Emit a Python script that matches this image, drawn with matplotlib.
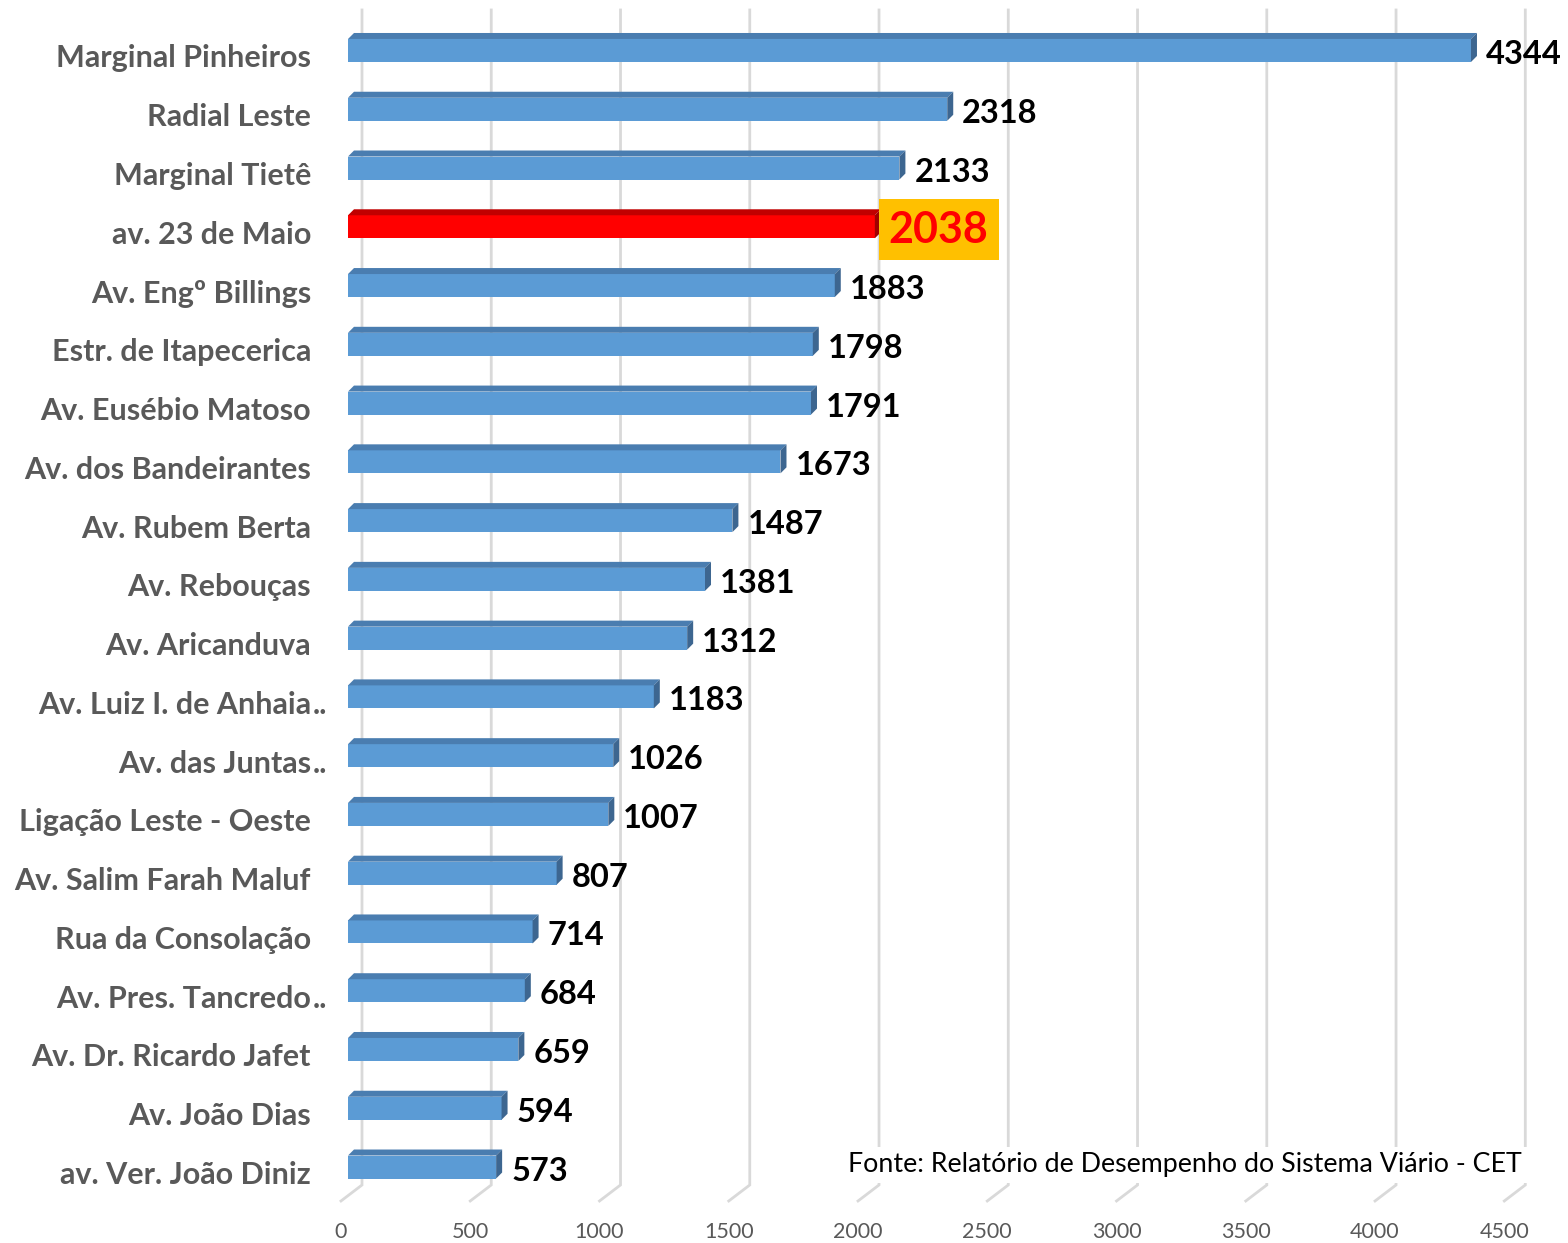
import matplotlib.pyplot as plt
from matplotlib.patches import Polygon, Rectangle

# data
vias = ["Marginal Pinheiros", "Radial Leste", "Marginal Tietê", "av. 23 de Maio",
        "Av. Engº Billings", "Estr. de Itapecerica", "Av. Eusébio Matoso",
        "Av. dos Bandeirantes", "Av. Rubem Berta", "Av. Rebouças", "Av. Aricanduva",
        "Av. Luiz I. de Anhaia..", "Av. das Juntas..", "Ligação Leste - Oeste",
        "Av. Salim Farah Maluf", "Rua da Consolação", "Av. Pres. Tancredo..",
        "Av. Dr. Ricardo Jafet", "Av. João Dias", "av. Ver. João Diniz"]
valores = [4344, 2318, 2133, 2038, 1883, 1798, 1791, 1673, 1487, 1381, 1312,
           1183, 1026, 1007, 807, 714, 684, 659, 594, 573]
destaque = "av. 23 de Maio"
ticks_x = [0, 500, 1000, 1500, 2000, 2500, 3000, 3500, 4000, 4500]
fonte = "Fonte: Relatório de Desempenho do Sistema Viário - CET"

W, H, DPI = 1568, 1243, 100
fig = plt.figure(figsize=(W / DPI, H / DPI), dpi=DPI)
ax = fig.add_axes([348 / W, (H - 1196.4) / H, (1511.3 - 348) / W, (1196.4 - 21.1) / H])
ax.set_xlim(0, 4500)
ax.set_ylim(len(vias) - 0.5, -0.5)
ax.axis("off")

# pixel -> data scales
p0 = ax.transData.transform((0, 0))
p1 = ax.transData.transform((1, 1))
ux = p1[0] - p0[0]          # px per unit x
uy = p0[1] - p1[1]          # px per unit y (downwards)

def px_x(n):
    return n / ux

def px_y(n):
    return n / uy

# gridlines (back plane + perspective floor)
grid_col = "#D9D9D9"
y_top = px_y(10 - 50.5)
y_back = px_y(1185 - 50.5)
y_front = px_y(1201 - 50.5)
for t in ticks_x:
    xb = t + px_x(14)
    xf = t - px_x(7)
    ax.plot([xb, xb, xf], [y_top, y_back, y_front], color=grid_col, lw=2,
            clip_on=False, zorder=1, solid_joinstyle="miter")
    ax.text(xf, px_y(1232 - 50.5), str(t), ha="center", va="center",
            fontsize=15.5, color="#595959", family="Lato")

# bars
h = 23 / uy
dx, dy = px_x(6), px_y(6)
lbl = dict(va="center", fontsize=22, fontweight="bold", color="#595959",
           family="Lato", clip_on=False)
for i, (nome, v) in enumerate(zip(vias, valores)):
    if nome == destaque:
        front, top, side = "#FF0000", "#C00000", "#A00000"
    else:
        front, top, side = "#5B9BD5", "#4A7DB0", "#3D6690"
    y0, y1 = i - h / 2, i + h / 2
    ax.add_patch(Rectangle((0, y0), v, h, facecolor=front, edgecolor="none", zorder=3))
    ax.add_patch(Polygon([(0, y0), (dx, y0 - dy), (v + dx, y0 - dy), (v, y0)],
                         closed=True, facecolor=top, edgecolor="none", zorder=3))
    ax.add_patch(Polygon([(v, y0), (v + dx, y0 - dy), (v + dx, y1 - dy), (v, y1)],
                         closed=True, facecolor=side, edgecolor="none", zorder=3))

    yl = i + px_y(8)
    if nome.endswith(".."):
        ax.text(-px_x(37), yl, nome[:-2], ha="right", **lbl)
        ax.text(-px_x(35), yl, "..", ha="left", **lbl)
    else:
        ax.text(-px_x(37), yl, nome, ha="right", **lbl)

    if nome == destaque:
        ax.text(v + px_x(14), i + px_y(3), str(v), ha="left", va="center", fontsize=31,
                fontweight="bold", color="#FF0000", family="Lato", zorder=5,
                bbox=dict(boxstyle="square,pad=0.24", facecolor="#FFC000", edgecolor="none"))
    else:
        ax.text(v + px_x(15), i + px_y(4), str(v), ha="left", va="center", fontsize=23.5,
                fontweight="bold", color="black", family="Lato", zorder=5, clip_on=False)

ax.text(4500 + px_x(10), px_y(1165 - 50.5), fonte, ha="right", va="center",
        fontsize=19.3, color="black", family="Lato", zorder=4,
        bbox=dict(boxstyle="square,pad=0.2", facecolor="white", edgecolor="none"))

fig.savefig("out.png", dpi=DPI)
